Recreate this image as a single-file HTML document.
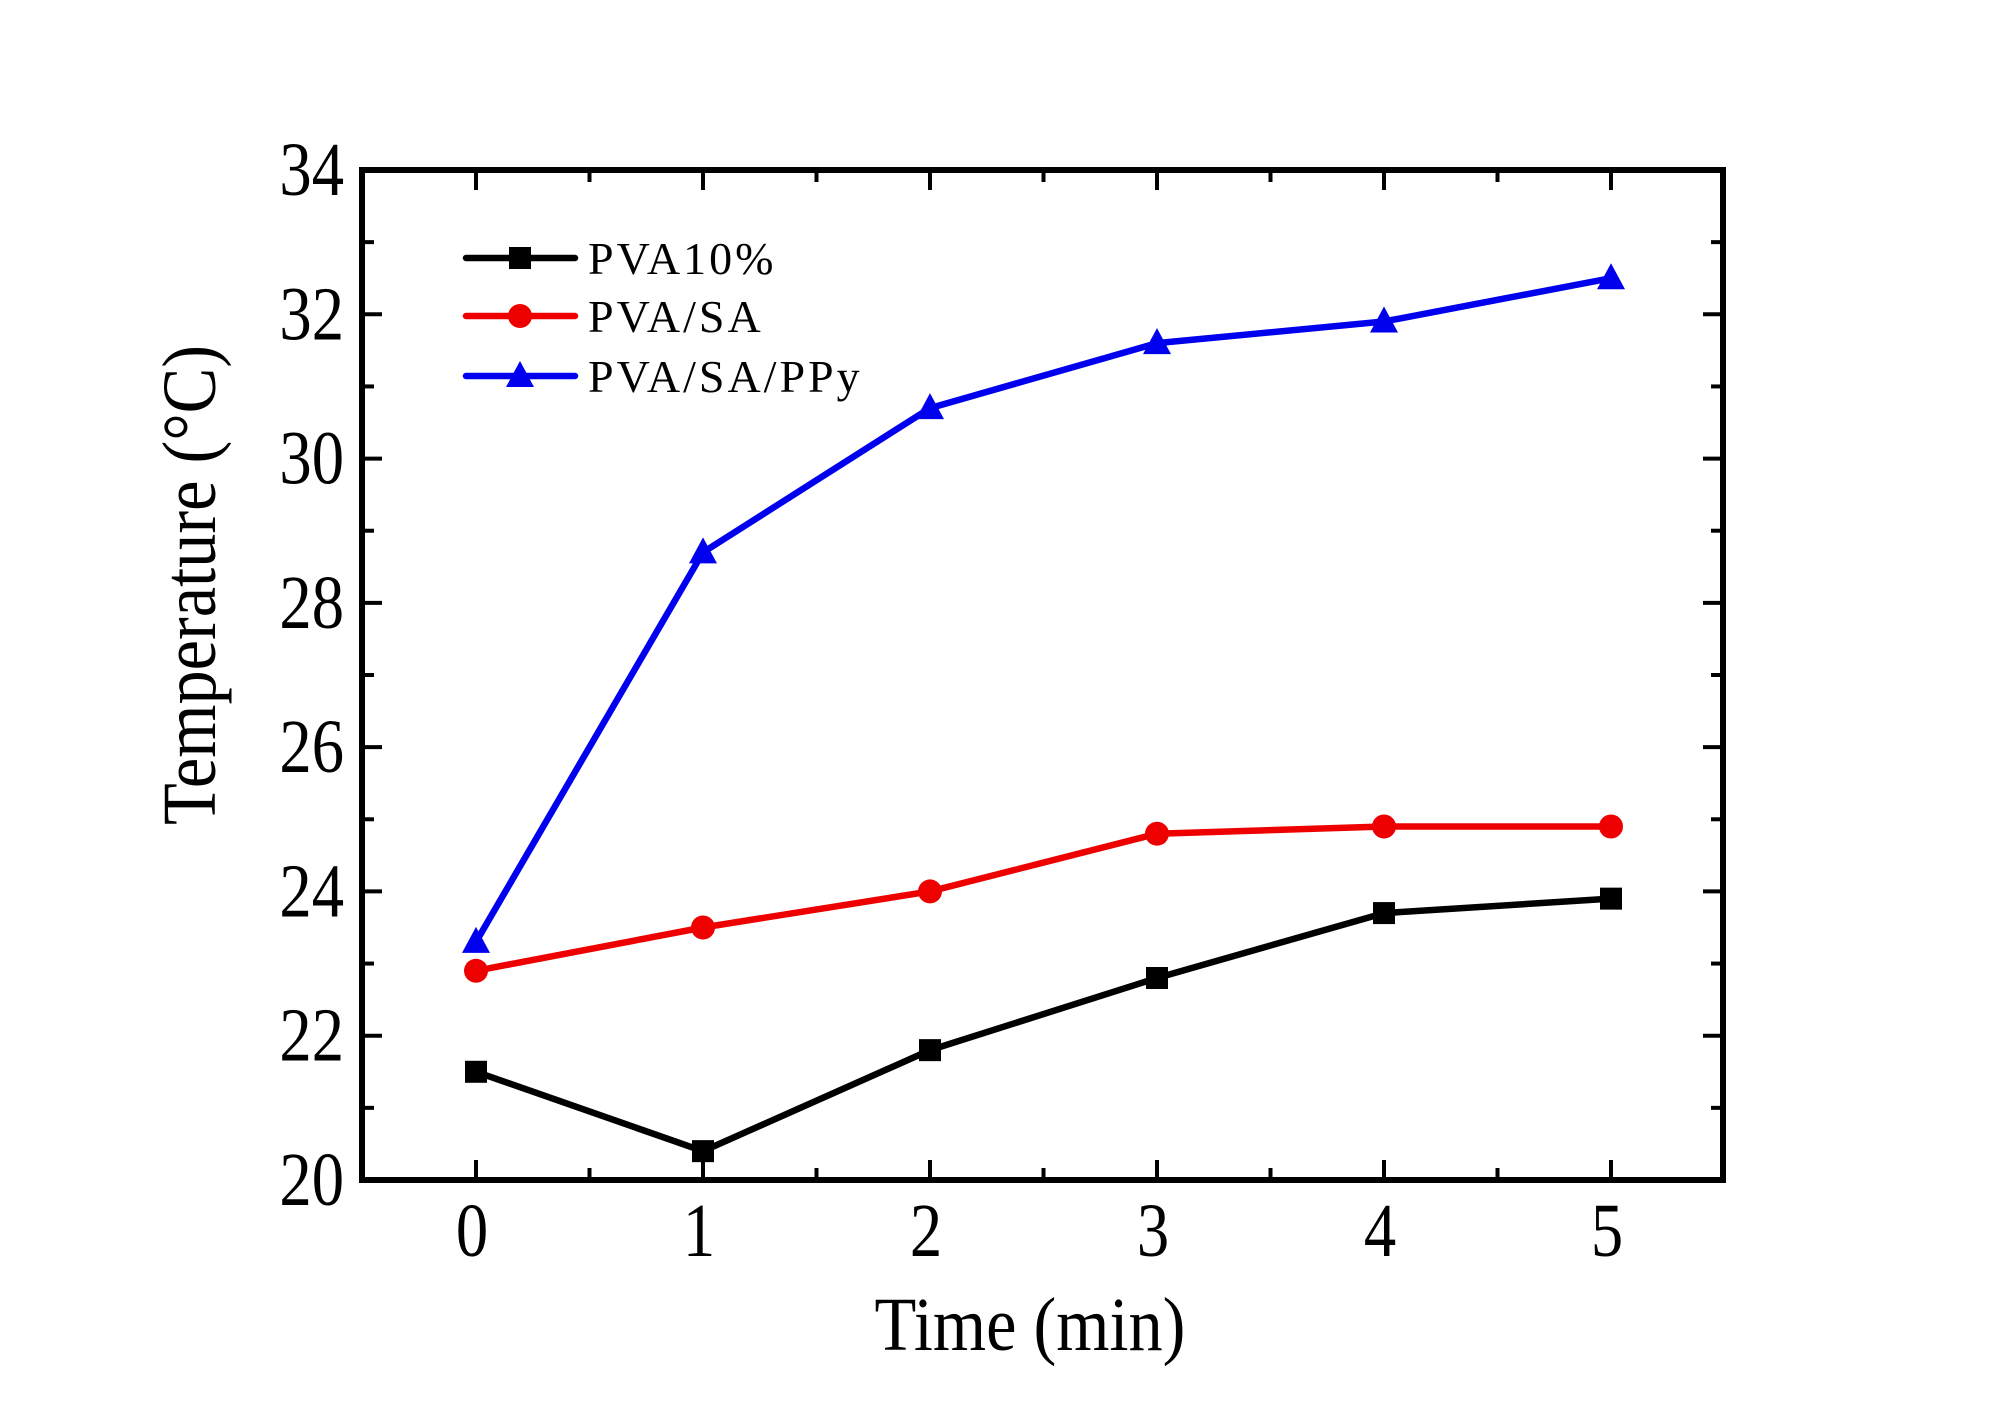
<!DOCTYPE html>
<html><head><meta charset="utf-8"><style>body{margin:0;background:#fff}svg{display:block}</style></head>
<body>
<svg id="chart" width="2000" height="1417" viewBox="0 0 2000 1417" xmlns="http://www.w3.org/2000/svg" font-family="'Liberation Serif', serif">
<g id="ticks"></g>
<g id="series"></g>
<rect x="362" y="170" width="1361" height="1010" fill="none" stroke="#000" stroke-width="6"/>
<g id="labels"></g>
<text x="1030" y="1350" font-size="76" text-anchor="middle" transform="translate(1030 0) scale(0.9 1) translate(-1030 0)">Time (min)</text>
<text x="0" y="0" font-size="76" text-anchor="middle" transform="translate(215 585) rotate(-90) scale(0.9 1)">Temperature (°C)</text>
<g id="legend"></g>
</svg>
<script>
const categories = [0, 1, 2, 3, 4, 5];
const seriesNames = ["PVA10%", "PVA/SA", "PVA/SA/PPy"];
const pva10 = [21.5, 20.4, 21.8, 22.8, 23.7, 23.9];
const pvaSa = [22.9, 23.5, 24.0, 24.8, 24.9, 24.9];
const pvaSaPpy = [23.3, 28.7, 30.7, 31.6, 31.9, 32.5];
const yTicks = [20, 22, 24, 26, 28, 30, 32, 34];
const xTicks = [0, 1, 2, 3, 4, 5];

const NS = "http://www.w3.org/2000/svg";
const L = 362, R = 1723, T = 170, B = 1180;
function xs(v){ return 476 + v * 227; }
function ys(v){ return B - (v - 20) / 14 * (B - T); }
function mk(tag, attrs, parent){ const e = document.createElementNS(NS, tag); for (const k in attrs) e.setAttribute(k, attrs[k]); parent.appendChild(e); return e; }

const tg = document.getElementById('ticks');
for (let v = -0.5; v <= 5.5; v += 0.5) {
  const x = xs(v); if (x <= L + 2 || x >= R - 2) continue;
  const major = Math.abs(v - Math.round(v)) < 1e-6;
  const len = major ? 20 : 12;
  const t1 = mk('line', {x1:x, y1:B, x2:x, y2:B-len, stroke:'#000', 'stroke-width':4}, tg);
  
  
  const t2 = mk('line', {x1:x, y1:T, x2:x, y2:T+len, stroke:'#000', 'stroke-width':4}, tg);
  
  
}
for (let v = 20; v <= 34; v += 1) {
  const y = ys(v); if (y <= T + 2 || y >= B - 2) continue;
  const len = v % 2 === 0 ? 20 : 12;
  const t1 = mk('line', {x1:L, y1:y, x2:L+len, y2:y, stroke:'#000', 'stroke-width':4}, tg);
  
  
  const t2 = mk('line', {x1:R, y1:y, x2:R-len, y2:y, stroke:'#000', 'stroke-width':4}, tg);
  
  
}

const lg = document.getElementById('labels');
yTicks.forEach(v => {
  const t = mk('text', {x:0, y:0, 'font-size':76, 'text-anchor':'end', transform:`translate(344 ${ys(v)+25}) scale(0.85 1)`}, lg);
  t.textContent = v;
  
  
});
xTicks.forEach(v => {
  const t = mk('text', {x:0, y:0, 'font-size':76, 'text-anchor':'middle', transform:`translate(${xs(v)-4} 1256) scale(0.85 1)`}, lg);
  t.textContent = v;
  
  
});

const colors = ['#000000', '#ee0000', '#0000ee'];
const shapes = ['square', 'circle', 'triangle'];
const allSeries = [pva10, pvaSa, pvaSaPpy];
function marker(shape, x, y, c, parent){
  let e;
  if (shape === 'square') e = mk('rect', {x:x-11, y:y-11, width:22, height:22, fill:c}, parent);
  else if (shape === 'circle') e = mk('circle', {cx:x, cy:y, r:12, fill:c}, parent);
  else e = mk('polygon', {points:`${x},${y-15} ${x-14},${y+11} ${x+14},${y+11}`, fill:c}, parent);
  return e;
}
const sg = document.getElementById('series');
allSeries.forEach((vals, i) => {
  const pts = vals.map((v, j) => xs(categories[j]) + ',' + ys(v)).join(' ');
  const pl = mk('polyline', {points:pts, fill:'none', stroke:colors[i], 'stroke-width':6.5, 'stroke-linejoin':'round'}, sg);
  
  
  vals.forEach((v, j) => {
    const m = marker(shapes[i], xs(categories[j]), ys(v), colors[i], sg);
    
    
  });
});

const lgd = document.getElementById('legend');
const legendY = [258, 316, 376];
seriesNames.forEach((n, i) => {
  const ln = mk('line', {x1:466, y1:legendY[i], x2:575, y2:legendY[i], stroke:colors[i], 'stroke-width':6.5, 'stroke-linecap':'round'}, lgd);
  
  
  const m = marker(shapes[i], 520, legendY[i], colors[i], lgd);
  
  
  const t = mk('text', {x:0, y:0, 'font-size':46, 'letter-spacing':3, transform:`translate(588 ${legendY[i]+16})`}, lgd);
  t.textContent = n;
  
  
});
</script>
</body></html>
